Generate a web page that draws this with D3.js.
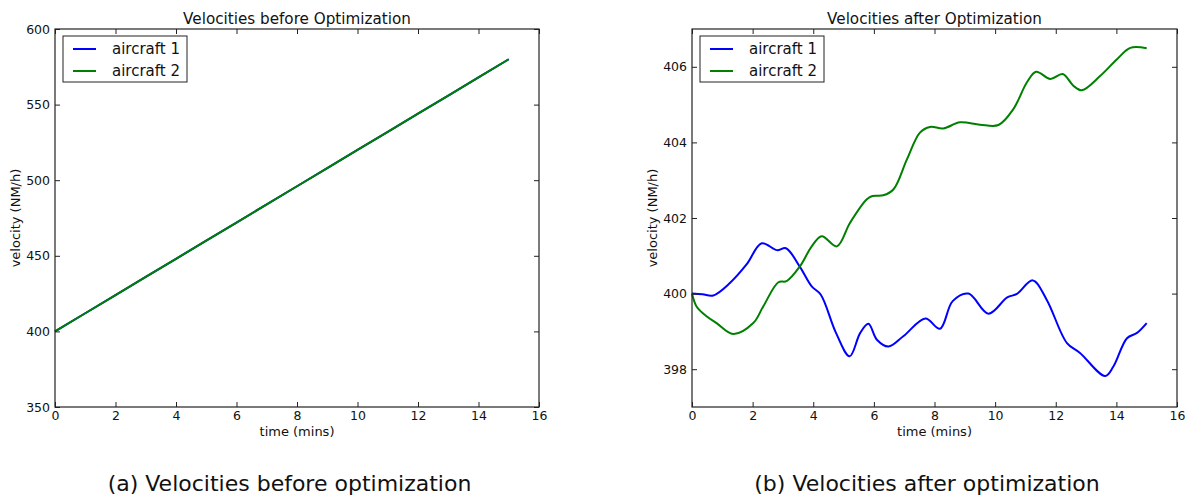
<!DOCTYPE html>
<html>
<head>
<meta charset="utf-8">
<script src="https://cdn.jsdelivr.net/npm/d3@7"></script>
<style>
  html, body { margin: 0; padding: 0; background: #fff; }
  svg { display: block; }
  text { font-family: "DejaVu Sans", sans-serif; fill: #111; }
</style>
</head>
<body>
<svg id="chart" width="1185" height="497"></svg>
<script>
// ---------- DATA ----------
const seriesNames = ["aircraft 1", "aircraft 2"];
const seriesColors = ["#0000ff", "#008000"];

// (a) before optimization
const beforeTime = [0, 1, 2, 3, 4, 5, 6, 7, 8, 9, 10, 11, 12, 13, 14, 15];
const beforeAircraft1 = [400, 412, 424, 436, 448, 460, 472, 484, 496, 508, 520, 532, 544, 556, 568, 580];
const beforeAircraft2 = [400, 412, 424, 436, 448, 460, 472, 484, 496, 508, 520, 532, 544, 556, 568, 580];

// (b) after optimization
const afterTime1 = [0, 0.35, 0.7, 1.25, 1.8, 2.3, 2.8, 3.1, 3.55, 3.95, 4.25, 4.75, 5.2, 5.55, 5.82, 6.1, 6.48, 6.97, 7.7, 8.18, 8.6, 9.12, 9.78, 10.4, 10.72, 11.24, 11.7, 12.37, 12.8, 13.63, 13.9, 14.35, 14.68, 15.0];
const afterAircraft1 = [400, 399.98, 399.95, 400.28, 400.77, 401.33, 401.15, 401.2, 400.72, 400.19, 399.97, 398.96, 398.34, 398.96, 399.2, 398.78, 398.6, 398.87, 399.34, 399.07, 399.8, 400.0, 399.47, 399.9, 399.99, 400.35, 399.84, 398.69, 398.43, 397.82, 398.07, 398.82, 398.96, 399.22];
const afterTime2 = [0, 0.15, 0.48, 0.81, 1.36, 2.02, 2.35, 2.85, 3.12, 3.56, 3.95, 4.28, 4.78, 5.21, 5.76, 5.95, 6.31, 6.65, 7.09, 7.52, 7.85, 8.29, 8.84, 9.5, 10.11, 10.6, 11.05, 11.35, 11.82, 12.23, 12.58, 12.86, 13.47, 14.02, 14.46, 15.0];
const afterAircraft2 = [400, 399.66, 399.40, 399.22, 398.93, 399.22, 399.66, 400.30, 400.33, 400.72, 401.25, 401.52, 401.25, 401.87, 402.49, 402.58, 402.60, 402.76, 403.55, 404.26, 404.41, 404.37, 404.53, 404.47, 404.46, 404.88, 405.59, 405.87, 405.68, 405.81, 405.50, 405.38, 405.76, 406.20, 406.50, 406.49];

const xTicks = [0, 2, 4, 6, 8, 10, 12, 14, 16];
const yTicksBefore = [350, 400, 450, 500, 550, 600];
const yTicksAfter = [398, 400, 402, 404, 406];

const titles = ["Velocities before Optimization", "Velocities after Optimization"];
const captions = ["(a) Velocities before optimization", "(b) Velocities after optimization"];
const xLabel = "time (mins)";
const yLabel = "velocity (NM/h)";

// ---------- DRAW ----------
const svg = d3.select("#chart");

function panel(cfg) {
  const g = svg.append("g");
  const x = d3.scaleLinear().domain([0, 16]).range([cfg.left, cfg.right]);
  const y = d3.scaleLinear().domain(cfg.yDomain).range([cfg.bottom, cfg.top]);
  const tl = 5;

  const line = d3.line().x(d => x(d[0])).y(d => y(d[1])).curve(cfg.curve);
  cfg.series.forEach((s, i) => {
    g.append("path")
      .datum(s.t.map((t, k) => [t, s.v[k]]))
      .attr("fill", "none")
      .attr("stroke", seriesColors[i])
      .attr("stroke-width", 2)
      .attr("stroke-linejoin", "round")
      .attr("d", line);
  });

  // axes (inward ticks on all four sides)
  const ax = (axis, tx, ty) => {
    const a = g.append("g").attr("transform", `translate(${tx},${ty})`).call(axis);
    a.select(".domain").remove();
    a.selectAll("line").attr("stroke", "#222").attr("stroke-width", 1);
    a.attr("font-family", "DejaVu Sans").attr("font-size", 12.5);
    return a;
  };
  ax(d3.axisBottom(x).tickValues(xTicks).tickSizeInner(-tl).tickSizeOuter(0).tickPadding(4).tickFormat(d3.format("d")), 0, cfg.bottom)
    .selectAll("text").attr("fill", "#111");
  ax(d3.axisTop(x).tickValues(xTicks).tickSizeInner(-tl).tickSizeOuter(0).tickFormat(""), 0, cfg.top);
  ax(d3.axisLeft(y).tickValues(cfg.yTicks).tickSizeInner(-tl).tickSizeOuter(0).tickPadding(5).tickFormat(d3.format("d")), cfg.left, 0)
    .selectAll("text").attr("fill", "#111");
  ax(d3.axisRight(y).tickValues(cfg.yTicks).tickSizeInner(-tl).tickSizeOuter(0).tickFormat(""), cfg.right, 0);

  g.append("rect")
    .attr("x", cfg.left).attr("y", cfg.top)
    .attr("width", cfg.right - cfg.left).attr("height", cfg.bottom - cfg.top)
    .attr("fill", "none").attr("stroke", "#222").attr("stroke-width", 1.2);

  const cx = (cfg.left + cfg.right) / 2;
  g.append("text").attr("x", cx).attr("y", cfg.top - 5).attr("text-anchor", "middle")
    .style("font-size", "15.2px").text(cfg.title);
  g.append("text").attr("x", cx).attr("y", cfg.bottom + 29).attr("text-anchor", "middle")
    .style("font-size", "13px").text(xLabel);
  g.append("text")
    .attr("transform", `translate(${cfg.left - 35},${(cfg.top + cfg.bottom) / 2}) rotate(-90)`)
    .attr("text-anchor", "middle").style("font-size", "13px").text(yLabel);

  // legend
  const lg = g.append("g").attr("transform", `translate(${cfg.left + 8},${cfg.top + 7})`);
  lg.append("rect").attr("width", 124).attr("height", 46)
    .attr("fill", "#fff").attr("stroke", "#222").attr("stroke-width", 1);
  seriesNames.forEach((n, i) => {
    const yy = 13 + i * 22;
    lg.append("line").attr("x1", 10).attr("x2", 33).attr("y1", yy).attr("y2", yy)
      .attr("stroke", seriesColors[i]).attr("stroke-width", 2);
    lg.append("text").attr("x", 49).attr("y", yy + 5).style("font-size", "15px").text(n);
  });

  svg.append("text").attr("x", cx - 7.5).attr("y", 491).attr("text-anchor", "middle")
    .style("font-family", "'DejaVu Sans', sans-serif")
    .style("font-size", "22px").text(cfg.caption);
}

panel({
  left: 55, right: 539, top: 29, bottom: 407,
  yDomain: [350, 600], yTicks: yTicksBefore,
  series: [{t: beforeTime, v: beforeAircraft1}, {t: beforeTime, v: beforeAircraft2}],
  curve: d3.curveLinear, title: titles[0], caption: captions[0]
});
panel({
  left: 692, right: 1177, top: 29, bottom: 407,
  yDomain: [397, 407], yTicks: yTicksAfter,
  series: [{t: afterTime1, v: afterAircraft1}, {t: afterTime2, v: afterAircraft2}],
  curve: d3.curveCatmullRom.alpha(0.5), title: titles[1], caption: captions[1]
});
</script>
</body>
</html>
